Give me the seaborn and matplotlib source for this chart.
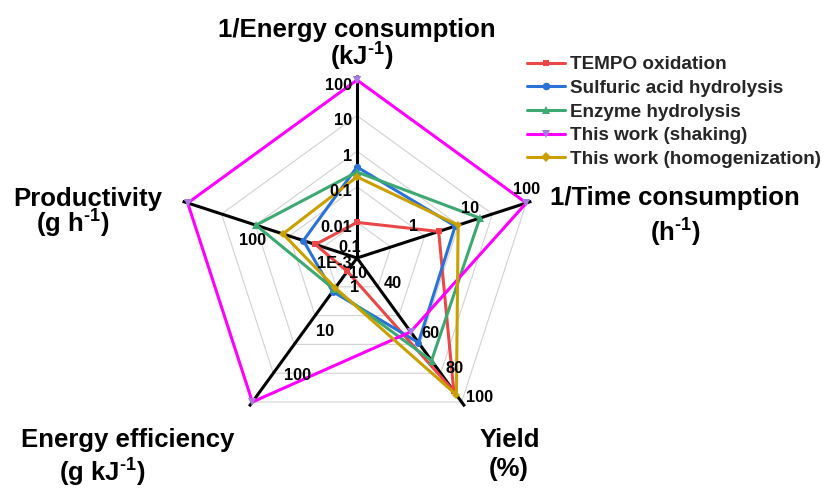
import numpy as np
import pandas as pd
import matplotlib
matplotlib.use("Agg")
import matplotlib.pyplot as plt
import seaborn as sns
from matplotlib.lines import Line2D

sns.set_theme(style="white")
plt.rcParams["font.family"] = ["Liberation Sans", "DejaVu Sans"]
plt.rcParams["font.weight"] = "bold"
plt.rcParams["mathtext.fontset"] = "custom"
plt.rcParams["mathtext.rm"] = "Liberation Sans:bold"
plt.rcParams["mathtext.it"] = "Liberation Sans:bold"
plt.rcParams["mathtext.bf"] = "Liberation Sans:bold"
plt.rcParams["mathtext.default"] = "rm"

# ---- data -------------------------------------------------------------
axis_names = ["1/Energy consumption", "1/Time consumption", "Yield",
              "Energy efficiency", "Productivity"]
axis_units = [r"(kJ$^{\text{-1}}$)", r"(h$^{\text{-1}}$)", "(%)",
              r"(g kJ$^{\text{-1}}$)", r"(g h$^{\text{-1}}$)"]
axis_min = [1e-3, 0.1, 20, 0.1, 10]
axis_max = [100, 100, 100, 100, 1000]
axis_log = [True, True, False, True, True]

methods = ["TEMPO oxidation", "Sulfuric acid hydrolysis", "Enzyme hydrolysis",
           "This work (shaking)", "This work (homogenization)"]
tempo = [0.01, 2.8, 94, 0.19, 31]
sulfuric = [0.36, 5.5, 67, 0.50, 43]
enzyme = [0.26, 15, 77, 0.45, 156]
shaking = [100, 100, 61, 100, 1000]
homogenization = [0.19, 6.2, 96, 0.42, 75]
series = [tempo, sulfuric, enzyme, shaking, homogenization]

tick_values = [[1e-3, 0.01, 0.1, 1, 10, 100],
               [0.1, 1, 10, 100],
               [40, 60, 80, 100],
               [1, 10, 100],
               [10, 100]]
tick_labels = [["1E-3", "0.01", "0.1", "1", "10", "100"],
               ["0.1", "1", "10", "100"],
               ["40", "60", "80", "100"],
               ["1", "10", "100"],
               ["10", "100"]]

# ---- layout -----------------------------------------------------------
W, H = 826, 490
CX, CY, R = 357, 258, 178
colors = ["#EA4848", "#2A72D8", "#3DA872", "#FF00FF", "#C9A000"]
markers = ["s", "o", "^", "v", "D"]
marker_sizes = [4.5, 5.0, 5.5, 5.5, 4.5]
LW = 2.2
tick_offsets = [[(-5, 5)] * 6,
                [(-7, -11), (0, -13), (0, -13), (0, -13)],
                [(10, -11), (21, 3), (19, 2), (18, -5)],
                [(32, -19), (38, -23), (45, -27)],
                [(1, 15), (-20, 10)]]
tick_ha = ["right", "center", "center", "center", "center"]
title_pos = [((357, 37), (362, 66)),
             ((675, 205), (675, 242)),
             ((510, 447), (509, 476)),
             ((128, 447), (102, 482)),
             ((88, 206), (73, 233))]

n_axes = len(axis_names)
angles = np.deg2rad(90 - 72 * np.arange(n_axes))


def frac(k, v):
    lo, hi = axis_min[k], axis_max[k]
    if axis_log[k]:
        return (np.log10(v) - np.log10(lo)) / (np.log10(hi) - np.log10(lo))
    return (v - lo) / (hi - lo)


def to_xy(k, f):
    return CX + R * f * np.cos(angles[k]), CY - R * f * np.sin(angles[k])


fig = plt.figure(figsize=(W / 100, H / 100), dpi=100)
ax = fig.add_axes([0, 0, 1, 1])

# grid rings
for level in np.linspace(0.2, 1.0, 5):
    pts = [to_xy(k, level) for k in list(range(n_axes)) + [0]]
    ax.plot([p[0] for p in pts], [p[1] for p in pts], color="#d2d2d2",
            lw=0.8, zorder=1)

# spokes
for k in range(n_axes):
    x1, y1 = to_xy(k, 1.03)
    ax.plot([CX, x1], [CY, y1], color="black", lw=LW, zorder=2,
            solid_capstyle="butt")

# series polygons
rows = []
for name, vals in zip(methods, series):
    for i, k in enumerate(list(range(n_axes)) + [0]):
        x, y = to_xy(k, frac(k, vals[k]))
        rows.append({"method": name, "order": i, "x": x, "y": y})
df = pd.DataFrame(rows)

sns.lineplot(data=df, x="x", y="y", hue="method", style="method",
             hue_order=methods, style_order=methods,
             palette=dict(zip(methods, colors)),
             markers=dict(zip(methods, markers)), dashes=False,
             sort=False, estimator=None, lw=LW, legend=False, ax=ax,
             zorder=3)

series_lines = ax.lines[-len(methods):]
for line, c, ms, name in zip(series_lines, colors, marker_sizes, methods):
    face = "#A57BE0" if name == "This work (shaking)" else c
    line.set_markerfacecolor(face)
    line.set_markeredgecolor(face)
    line.set_markeredgewidth(0)
    line.set_markersize(ms)

ax.set_xlim(0, W)
ax.set_ylim(H, 0)
ax.axis("off")

# tick labels
for k in range(n_axes):
    for v, lab, (dx, dy) in zip(tick_values[k], tick_labels[k], tick_offsets[k]):
        x, y = to_xy(k, frac(k, v))
        ax.text(x + dx, y + dy, lab, ha=tick_ha[k], va="center",
                fontsize=11.8, fontweight="bold", color="black", zorder=5)

# axis titles
for k in range(n_axes):
    (tx, ty), (ux, uy) = title_pos[k]
    ax.text(tx, ty, axis_names[k], ha="center", va="baseline",
            fontsize=18.5, fontweight="bold", color="black")
    ax.text(ux, uy, axis_units[k], ha="center", va="baseline",
            fontsize=18.5, fontweight="bold", color="black")

# legend
handles = []
for c, m, ms, name in zip(colors, markers, marker_sizes, methods):
    face = "#A57BE0" if name == "This work (shaking)" else c
    handles.append(Line2D([], [], color=c, lw=LW, marker=m, markersize=ms + 0.5,
                          markerfacecolor=face, markeredgecolor=face,
                          markeredgewidth=0))
leg = ax.legend(handles, methods, loc="upper left",
                bbox_to_anchor=(527 / W, 1 - 56 / H),
                bbox_transform=fig.transFigure, frameon=False,
                prop={"family": "Liberation Sans", "weight": "bold", "size": 13.6},
                handlelength=2.0, handletextpad=0.3, labelspacing=0.34,
                borderpad=0, borderaxespad=0)

fig.savefig("out.png", dpi=100)
